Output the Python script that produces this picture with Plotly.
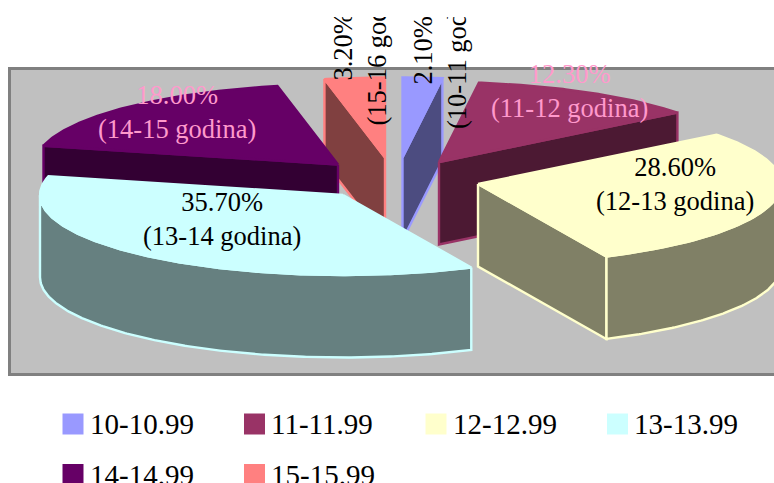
import numpy as np
import plotly.graph_objects as go

# ---- data ----
age_bands = ["10-10.99", "11-11.99", "12-12.99", "13-13.99", "14-14.99", "15-15.99"]
share_pct = [2.1, 12.3, 28.6, 35.7, 18.0, 3.2]
slice_years = ["10-11 godina", "11-12 godina", "12-13 godina", "13-14 godina", "14-15 godina", "15-16 godina"]

# ---- styling ----
top_colors = ["#9999FF", "#993366", "#FFFFCC", "#CCFFFF", "#660066", "#FF8080"]
side_colors = ["#4C4C80", "#4C1933", "#808066", "#668080", "#330033", "#804040"]
label_colors = ["#000000", "#FF99CC", "#000000", "#000000", "#FF99CC", "#000000"]

# exploded slice centres (pixels of the 774x483 canvas), tilt and depth
centres = [(402.5, 157.5), (439, 162), (478, 184), (343, 195), (338, 164.5), (385, 157.5)]
RX, RY, DEPTH = 303, 80, 82.5
draw_order = [5, 0, 1, 4, 2, 3]
label_pos = [(440, 51, -90), (569, 91, 0), (675, 184, 0), (222, 219, 0), (177, 112, 0), (359, 46.5, -90)]
legend_x = [73, 254.5, 436, 617.5, 73, 254.5]
legend_y = [424, 424, 424, 424, 474.5, 474.5]
FONT = "Liberation Serif"

total = sum(share_pct)
cum = np.cumsum([0] + share_pct) / total * 360


def rim(cx, cy, a0, a1, dy=0.0):
    t = np.radians(np.linspace(a0, a1, max(int(abs(a1 - a0)) * 2, 2) + 1))
    return cx + RX * np.sin(t), cy - RY * np.cos(t) + dy


def face(fig, xs, ys, fill, line, name):
    fig.add_trace(go.Scatter(x=list(xs), y=list(ys), mode="lines", fill="toself",
                             fillcolor=fill, line=dict(color=line, width=2.4),
                             hoverinfo="skip", showlegend=False, name=name))


fig = go.Figure()
for i in draw_order:
    cx, cy = centres[i]
    a0, a1 = cum[i], cum[i + 1]
    # outer wall, only the part facing the viewer
    w0, w1 = max(a0, 90), min(a1, 270)
    if w1 > w0:
        xt, yt = rim(cx, cy, w0, w1)
        xb, yb = rim(cx, cy, w0, w1, DEPTH)
        face(fig, np.r_[xt, xb[::-1], xt[0]], np.r_[yt, yb[::-1], yt[0]],
             side_colors[i], top_colors[i], age_bands[i])
    # radial wall
    edge = a1 if a1 < 180 else (a0 if a0 > 180 else None)
    if edge is not None:
        ex, ey = rim(cx, cy, edge, edge)
        ex, ey = ex[0], ey[0]
        face(fig, [cx, ex, ex, cx, cx], [cy, ey, ey + DEPTH, cy + DEPTH, cy],
             side_colors[i], top_colors[i], age_bands[i])
    # top surface
    xt, yt = rim(cx, cy, a0, a1)
    face(fig, np.r_[cx, xt, cx], np.r_[cy, yt, cy], top_colors[i], top_colors[i], age_bands[i])

# legend as square markers with text beside them
for i, band in enumerate(age_bands):
    fig.add_trace(go.Scatter(x=[legend_x[i]], y=[legend_y[i]], mode="markers",
                             marker=dict(symbol="square", size=21, color=top_colors[i], line=dict(width=0)),
                             hoverinfo="skip", showlegend=False, name=band))

annotations = []
for i in range(6):
    x, y, ang = label_pos[i]
    annotations.append(dict(x=x, y=y, xref="x", yref="y", showarrow=False, textangle=ang,
                            text=f"{share_pct[i]:.2f}%<br>({slice_years[i]})", align="center",
                            font=dict(family=FONT, size=26.5, color=label_colors[i])))
for i, band in enumerate(age_bands):
    annotations.append(dict(x=legend_x[i] + 14.5, y=legend_y[i], xref="x", yref="y", showarrow=False,
                            xanchor="left", yanchor="middle", text=band,
                            font=dict(family=FONT, size=29, color="#000000")))
# the chart frame cuts the vertical labels off at the top
annotations.append(dict(x=400, y=0, xref="x", yref="y", xanchor="center", yanchor="top", showarrow=False,
                        text=" ", width=240, height=17, bgcolor="#FFFFFF", borderpad=0, borderwidth=0,
                        font=dict(size=1)))

fig.update_layout(
    width=774, height=483, margin=dict(l=0, r=0, t=0, b=0),
    paper_bgcolor="#FFFFFF", plot_bgcolor="#FFFFFF", showlegend=False,
    xaxis=dict(range=[0, 774], visible=False, fixedrange=True),
    yaxis=dict(range=[483, 0], visible=False, fixedrange=True),
    shapes=[dict(type="rect", xref="x", yref="y", x0=9.5, x1=790, y0=68.5, y1=374.5,
                 fillcolor="#C0C0C0", line=dict(color="#808080", width=3), layer="below")],
    annotations=annotations,
)
fig.write_html("out.html", post_script="document.body.style.margin='0';document.documentElement.style.overflow='hidden';",
               config=dict(displayModeBar=False))
